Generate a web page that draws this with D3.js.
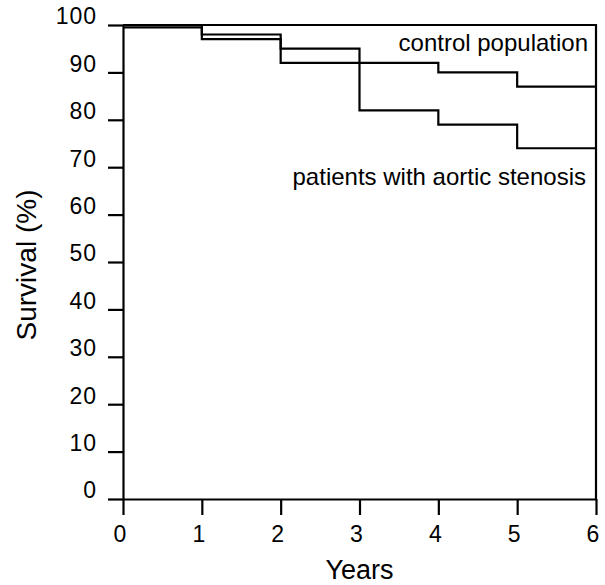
<!DOCTYPE html>
<meta charset="utf-8">
<style>
    body {margin: 0; background: #fff;}
    svg {font-family: 'Liberation Sans', Helvetica, Arial, sans-serif;}
    .axis text {font-size: 23px; fill: #000; letter-spacing: 1px;}
</style>

<svg width="605" height="585"></svg>

<script src="https://cdnjs.cloudflare.com/ajax/libs/d3/7.8.5/d3.min.js"></script>
<script>

// DATA (survival % at start of each year interval)
var years = [0, 1, 2, 3, 4, 5, 6];
var controlSurvival = [100, 97, 92, 92, 90, 87, 87];
var patientSurvival = [99.5, 98, 95, 82, 79, 74, 74];
var xTicks = [0, 1, 2, 3, 4, 5, 6];
var yTicks = [0, 10, 20, 30, 40, 50, 60, 70, 80, 90, 100];

var svg = d3.select("svg"),
    width = +svg.attr("width"),
    height = +svg.attr("height");

var x = d3.scaleLinear().domain([0, 6]).range([123, 596]);
var y = d3.scaleLinear().domain([0, 100]).range([499, 25]);

// FRAME (top + right)
svg.append("path")
    .attr("d", "M" + x(0) + "," + y(100) + "H" + x(6) + "V" + y(0))
    .style("fill", "none")
    .style("stroke", "#000")
    .style("stroke-width", 2.2);

// AXES
var xAxis = svg.append("g")
    .attr("class", "axis")
    .attr("transform", "translate(0," + y(0) + ")")
    .call(d3.axisBottom(x).tickValues(xTicks).tickFormat(d3.format("d"))
      .tickSize(16).tickSizeOuter(0).tickPadding(11));

xAxis.selectAll("text").attr("dx", "-3");

var yAxis = svg.append("g")
    .attr("class", "axis")
    .attr("transform", "translate(" + x(0) + ",0)")
    .call(d3.axisLeft(y).tickValues(yTicks).tickFormat(d3.format("d"))
      .tickSize(15).tickSizeOuter(0).tickPadding(11));

yAxis.selectAll("text").attr("dy", "-0.05em");

svg.selectAll(".axis .domain, .axis line")
    .style("stroke", "#000")
    .style("stroke-width", 2.2);

// SURVIVAL CURVES
var line = d3.line()
    .x(function(d) { return x(d.t); })
    .y(function(d) { return y(d.s); })
    .curve(d3.curveStepAfter);

[controlSurvival, patientSurvival].forEach(function(series) {
  var pts = years.map(function(t, i) { return {t: t, s: series[i]}; });
  svg.append("path")
      .datum(pts)
      .attr("d", line)
      .style("fill", "none")
      .style("stroke", "#000")
      .style("stroke-width", 2.2);
});

// LABELS
svg.append("text")
    .attr("x", 588)
    .attr("y", 51)
    .attr("text-anchor", "end")
    .style("font-size", "24px")
    .text("control population");

svg.append("text")
    .attr("x", 586)
    .attr("y", 185)
    .attr("text-anchor", "end")
    .style("font-size", "24px")
    .text("patients with aortic stenosis");

svg.append("text")
    .attr("x", (x(0) + x(6)) / 2)
    .attr("y", 579)
    .attr("text-anchor", "middle")
    .style("font-size", "27px")
    .text("Years");

svg.append("text")
    .attr("transform", "translate(36,265) rotate(-90)")
    .attr("text-anchor", "middle")
    .style("font-size", "28px")
    .text("Survival (%)");

</script>
